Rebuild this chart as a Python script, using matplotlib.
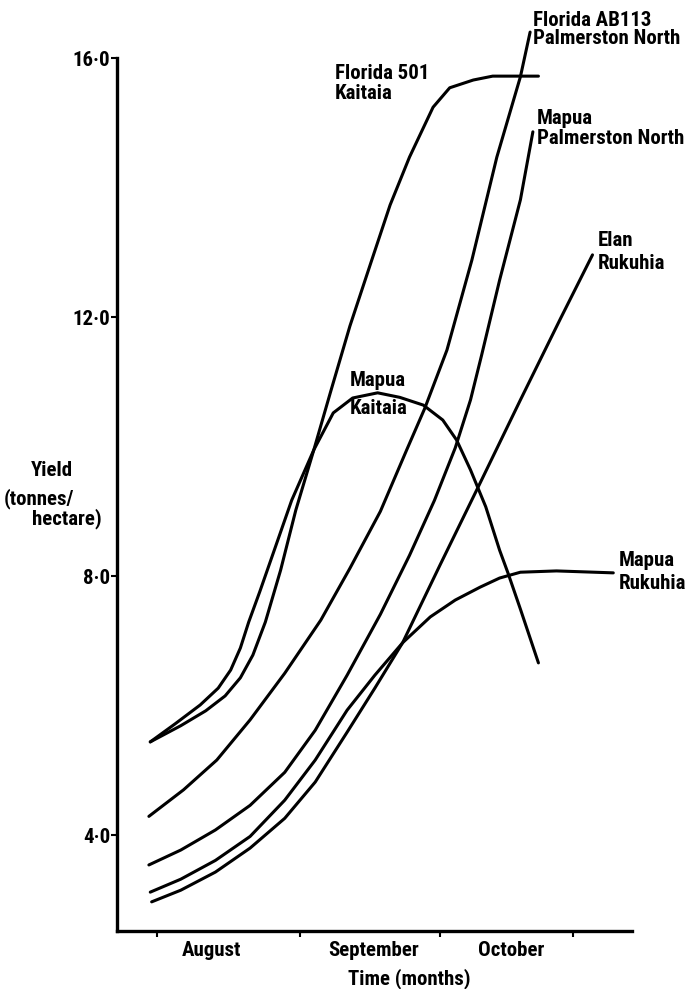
import numpy as np
import matplotlib.pyplot as plt

# x: months from the start of August (0 = August tick), y: yield in tonnes/hectare
fl501_kai_x = [-0.05, 0.17, 0.35, 0.49, 0.60, 0.69, 0.78, 0.89, 1.00, 1.13, 1.25, 1.39, 1.54, 1.68, 1.82, 1.99,
               2.11, 2.28, 2.42, 2.75]
fl501_kai_y = [5.44, 5.69, 5.92, 6.15, 6.43, 6.78, 7.29, 8.09, 9.02, 9.95, 10.84, 11.86, 12.83, 13.73, 14.47, 15.24,
               15.54, 15.66, 15.72, 15.72]

map_kai_x = [-0.05, 0.13, 0.31, 0.44, 0.53, 0.60, 0.66, 0.74, 0.82, 0.97, 1.13, 1.27, 1.41, 1.59, 1.75, 1.92, 2.06,
             2.16, 2.26, 2.37, 2.47, 2.53, 2.62, 2.75]
map_kai_y = [5.44, 5.72, 6.01, 6.27, 6.55, 6.89, 7.29, 7.76, 8.25, 9.17, 9.95, 10.52, 10.75, 10.83, 10.76, 10.64,
             10.41, 10.10, 9.64, 9.07, 8.40, 8.05, 7.49, 6.66]

flab_pn_x = [-0.06, 0.19, 0.43, 0.67, 0.92, 1.18, 1.39, 1.61, 1.80, 1.93, 2.09, 2.27, 2.45, 2.62, 2.69]
flab_pn_y = [4.29, 4.70, 5.16, 5.78, 6.50, 7.32, 8.12, 9.00, 9.95, 10.59, 11.49, 12.88, 14.47, 15.71, 16.40]

map_pn_x = [-0.06, 0.17, 0.42, 0.67, 0.92, 1.14, 1.37, 1.61, 1.82, 2.00, 2.15, 2.26, 2.34, 2.47, 2.62, 2.71]
map_pn_y = [3.54, 3.77, 4.08, 4.46, 4.97, 5.62, 6.47, 7.41, 8.32, 9.17, 9.98, 10.72, 11.41, 12.57, 13.81, 14.86]

map_ruk_x = [-0.05, 0.17, 0.42, 0.67, 0.92, 1.14, 1.37, 1.57, 1.77, 1.97, 2.15, 2.33, 2.47, 2.62, 2.88, 3.29]
map_ruk_y = [3.12, 3.32, 3.61, 3.98, 4.54, 5.16, 5.93, 6.47, 6.97, 7.37, 7.63, 7.83, 7.97, 8.06, 8.08, 8.05]

elan_ruk_x = [-0.04, 0.17, 0.42, 0.67, 0.92, 1.14, 1.37, 1.57, 1.77, 2.04, 2.33, 2.62, 2.91, 3.14]
elan_ruk_y = [2.97, 3.15, 3.43, 3.80, 4.26, 4.82, 5.59, 6.27, 6.97, 8.17, 9.44, 10.72, 11.98, 12.96]

curves = [
    (fl501_kai_x, fl501_kai_y),
    (map_kai_x, map_kai_y),
    (flab_pn_x, flab_pn_y),
    (map_pn_x, map_pn_y),
    (map_ruk_x, map_ruk_y),
    (elan_ruk_x, elan_ruk_y),
]

# curve labels: text, left x, top y (data units), line spacing
labels = [
    ("Florida 501\nKaitaia", 1.28, 15.91, 1.1),
    ("Florida AB113\nPalmerston North", 2.71, 16.73, 0.98),
    ("Mapua\nPalmerston North", 2.74, 15.21, 1.06),
    ("Elan\nRukuhia", 3.18, 13.33, 1.25),
    ("Mapua\nKaitaia", 1.39, 11.17, 1.58),
    ("Mapua\nRukuhia", 3.33, 8.38, 1.25),
]

month_names = ["August", "September", "October"]
month_label_x = [0.39, 1.56, 2.55]
month_edges = [0, 1.03, 2.04, 3.0]
yticks = [4, 8, 12, 16]
ytick_labels = ["4·0", "8·0", "12·0", "16·0"]

plt.rcParams['font.family'] = ['Roboto Condensed', 'Liberation Sans Narrow', 'Liberation Sans', 'DejaVu Sans']
plt.rcParams['font.weight'] = 'bold'
fs = 15

fig = plt.figure(figsize=(6.96, 9.89), dpi=100)
ax = fig.add_axes([117 / 696, 1 - 931 / 989, (632 - 117) / 696, (931 - 58) / 989])

for xs, ys in curves:
    ax.plot(xs, ys, color='black', linewidth=2.2, solid_capstyle='round',
            solid_joinstyle='round', clip_on=False)

for text, x, y, ls in labels:
    ax.text(x, y, text, ha='left', va='top', fontsize=fs, linespacing=ls, clip_on=False)

ax.set_xlim(-0.29, 3.425)
ax.set_ylim(2.52, 16)

ax.spines['top'].set_visible(False)
ax.spines['right'].set_visible(False)
ax.spines['left'].set_linewidth(2.4)
ax.spines['bottom'].set_linewidth(2.4)

ax.set_yticks(yticks)
ax.set_yticklabels(ytick_labels, fontsize=fs)
ax.tick_params(axis='y', direction='out', length=4, width=1.5, pad=1)

ax.set_xticks(month_edges)
ax.set_xticklabels([])
ax.tick_params(axis='x', which='major', direction='out', length=4, width=1.5)
ax.set_xticks(month_label_x, minor=True)
ax.set_xticklabels(month_names, minor=True, fontsize=fs)
ax.tick_params(axis='x', which='minor', length=0, pad=7)

fig.text(52 / 696, 1 - 471 / 989, "Yield", ha='center', va='center', fontsize=fs)
fig.text(4 / 696, 1 - 499 / 989, "(tonnes/", ha='left', va='center', fontsize=fs)
fig.text(32 / 696, 1 - 519 / 989, "hectare)", ha='left', va='center', fontsize=fs)
fig.text(409 / 696, 1 - 979 / 989, "Time (months)", ha='center', va='center', fontsize=fs)

fig.savefig('out.png', dpi=100, facecolor='white')
